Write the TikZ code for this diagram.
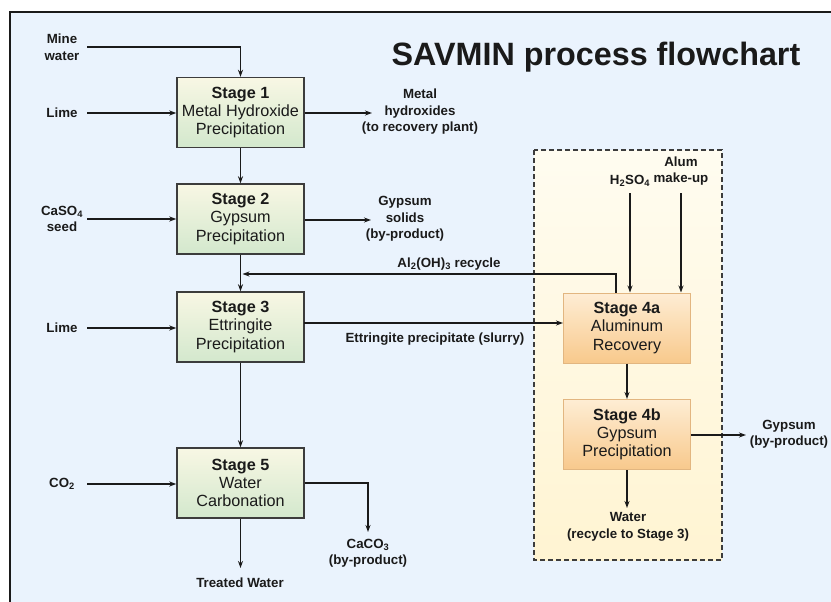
\documentclass[tikz,border=0pt]{standalone}
\usepackage{fontspec}
\setmainfont{Liberation Sans}
\usetikzlibrary{arrows.meta}
\definecolor{bgblue}{HTML}{EAF3FD}
\definecolor{creamtop}{HTML}{FFFCF0}
\definecolor{creambot}{HTML}{FFF4D2}
\definecolor{greentop}{HTML}{F8F7E4}
\definecolor{greenbot}{HTML}{D3E8CD}
\definecolor{orangetop}{HTML}{FEEDD4}
\definecolor{orangebot}{HTML}{F8C98C}
\definecolor{orangeline}{HTML}{E2B680}
\definecolor{ink}{HTML}{1A1A1A}
\tikzset{
  stagebox/.style={rectangle, draw=ink!85, line width=1.4pt, minimum width=127pt,
    minimum height=70pt, inner sep=0pt, align=center, text=ink,
    top color=greentop, bottom color=greenbot,
    font=\fontsize{16.2}{18.2}\selectfont},
  orangebox/.style={stagebox, draw=orangeline, line width=1pt,
    top color=orangetop, bottom color=orangebot},
  lab/.style={font=\fontsize{13.3}{16.5}\selectfont\bfseries, align=center, inner sep=0pt, text=ink},
  inlab/.style={lab, text width=50pt},
  arr/.style={-{Stealth[length=7pt,width=5pt]}, line width=1.3pt, draw=ink},
}
\begin{document}
\begin{tikzpicture}[x=1pt,y=-1pt]
\useasboundingbox (0,0) rectangle (831,602);
% background frame
\fill[white] (0,0) rectangle (831,602);
\fill[bgblue] (10,12) rectangle (831,602);
\draw[line width=2pt, draw=ink] (831,12) -- (10,12) -- (10,602);
% dashed region
\draw[dashed, dash pattern=on 5pt off 3pt, line width=1.4pt, draw=ink!85,
  top color=creamtop, bottom color=creambot] (534,150) rectangle (722,560);
% title
\node[font=\fontsize{32.3}{36}\selectfont\bfseries, text=ink, inner sep=0pt] (title) at (596,57) {SAVMIN process flowchart};
% stages
\node[stagebox] (s1) at (240.5,112.5) {\textbf{Stage 1}\\Metal Hydroxide\\Precipitation};
\node[stagebox] (s2) at (240.5,219) {\textbf{Stage 2}\\Gypsum\\Precipitation};
\node[stagebox] (s3) at (240.5,327) {\textbf{Stage 3}\\Ettringite\\Precipitation};
\node[stagebox] (s5) at (240.5,483) {\textbf{Stage 5}\\Water\\Carbonation};
\node[orangebox] (s4a) at (627,328) {\textbf{Stage 4a}\\Aluminum\\Recovery};
\node[orangebox] (s4b) at (627,434.5) {\textbf{Stage 4b}\\Gypsum\\Precipitation};
% input labels
\node[inlab] (mine) at (62,47) {Mine\\water};
\node[inlab] (lime1) at (62,113) {Lime};
\node[inlab] (caso4) at (62,219) {CaSO\textsubscript{4}\\seed};
\node[inlab] (lime3) at (62,328) {Lime};
\node[inlab] (co2) at (62,484) {CO\textsubscript{2}};
% output labels
\node[lab] (metal) at (420,112) {Metal\\hydroxides\\(to recovery plant)};
\node[lab] (gyps) at (405,219) {Gypsum\\solids\\(by-product)};
\node[lab] (recl) at (449,264) {Al\textsubscript{2}(OH)\textsubscript{3} recycle};
\node[lab] (ettl) at (435,339) {Ettringite precipitate (slurry)};
\node[lab] (h2so4) at (630,181) {H\textsubscript{2}SO\textsubscript{4}};
\node[lab] (alum) at (681,171) {Alum\\make-up};
\node[lab] (gyp4b) at (789,434) {Gypsum\\(by-product)};
\node[lab] (water) at (628,527) {Water\\(recycle to Stage 3)};
\node[lab] (caco3) at (368,553) {CaCO\textsubscript{3}\\(by-product)};
\node[lab] (treated) at (240,583) {Treated Water};
% coordinates
\coordinate (metalin) at (372,113);
\coordinate (gypsin) at (371,220);
\coordinate (jn) at (242.5,274);
\coordinate (recup) at (616,274);
\coordinate (e3) at (304,323);
\coordinate (c5) at (368,483);
\coordinate (caco3in) at (368,532);
\coordinate (treatin) at (240.5,568);
\coordinate (h2in) at (630,193);
\coordinate (alumin) at (681,193);
\coordinate (gyp4in) at (746,435);
\coordinate (waterin) at (627,508);
% connectors
\draw[arr] (mine.east) -| (s1.north);
\draw[arr] (lime1.east) -- (lime1.east -| s1.west);
\draw[arr] (s1.east |- metalin) -- (metalin);
\draw[arr] (s1.south) -- (s2.north);
\draw[arr] (caso4.east) -- (caso4.east -| s2.west);
\draw[arr] (s2.east |- gypsin) -- (gypsin);
\draw[arr] (s2.south) -- (s3.north);
\draw[arr] (s4a.north -| recup) |- (jn);
\draw[arr] (lime3.east) -- (lime3.east -| s3.west);
\draw[arr] (e3) -- (e3 -| s4a.west);
\draw[arr] (s3.south) -- (s5.north);
\draw[arr] (co2.east) -- (co2.east -| s5.west);
\draw[arr] (s5.east |- c5) -| (caco3in);
\draw[arr] (s5.south) -- (treatin);
\draw[arr] (h2in) -- (h2in |- s4a.north);
\draw[arr] (alumin) -- (alumin |- s4a.north);
\draw[arr] (s4a.south) -- (s4b.north);
\draw[arr] (s4b.east |- gyp4in) -- (gyp4in);
\draw[arr] (s4b.south) -- (waterin);
\end{tikzpicture}
\end{document}
